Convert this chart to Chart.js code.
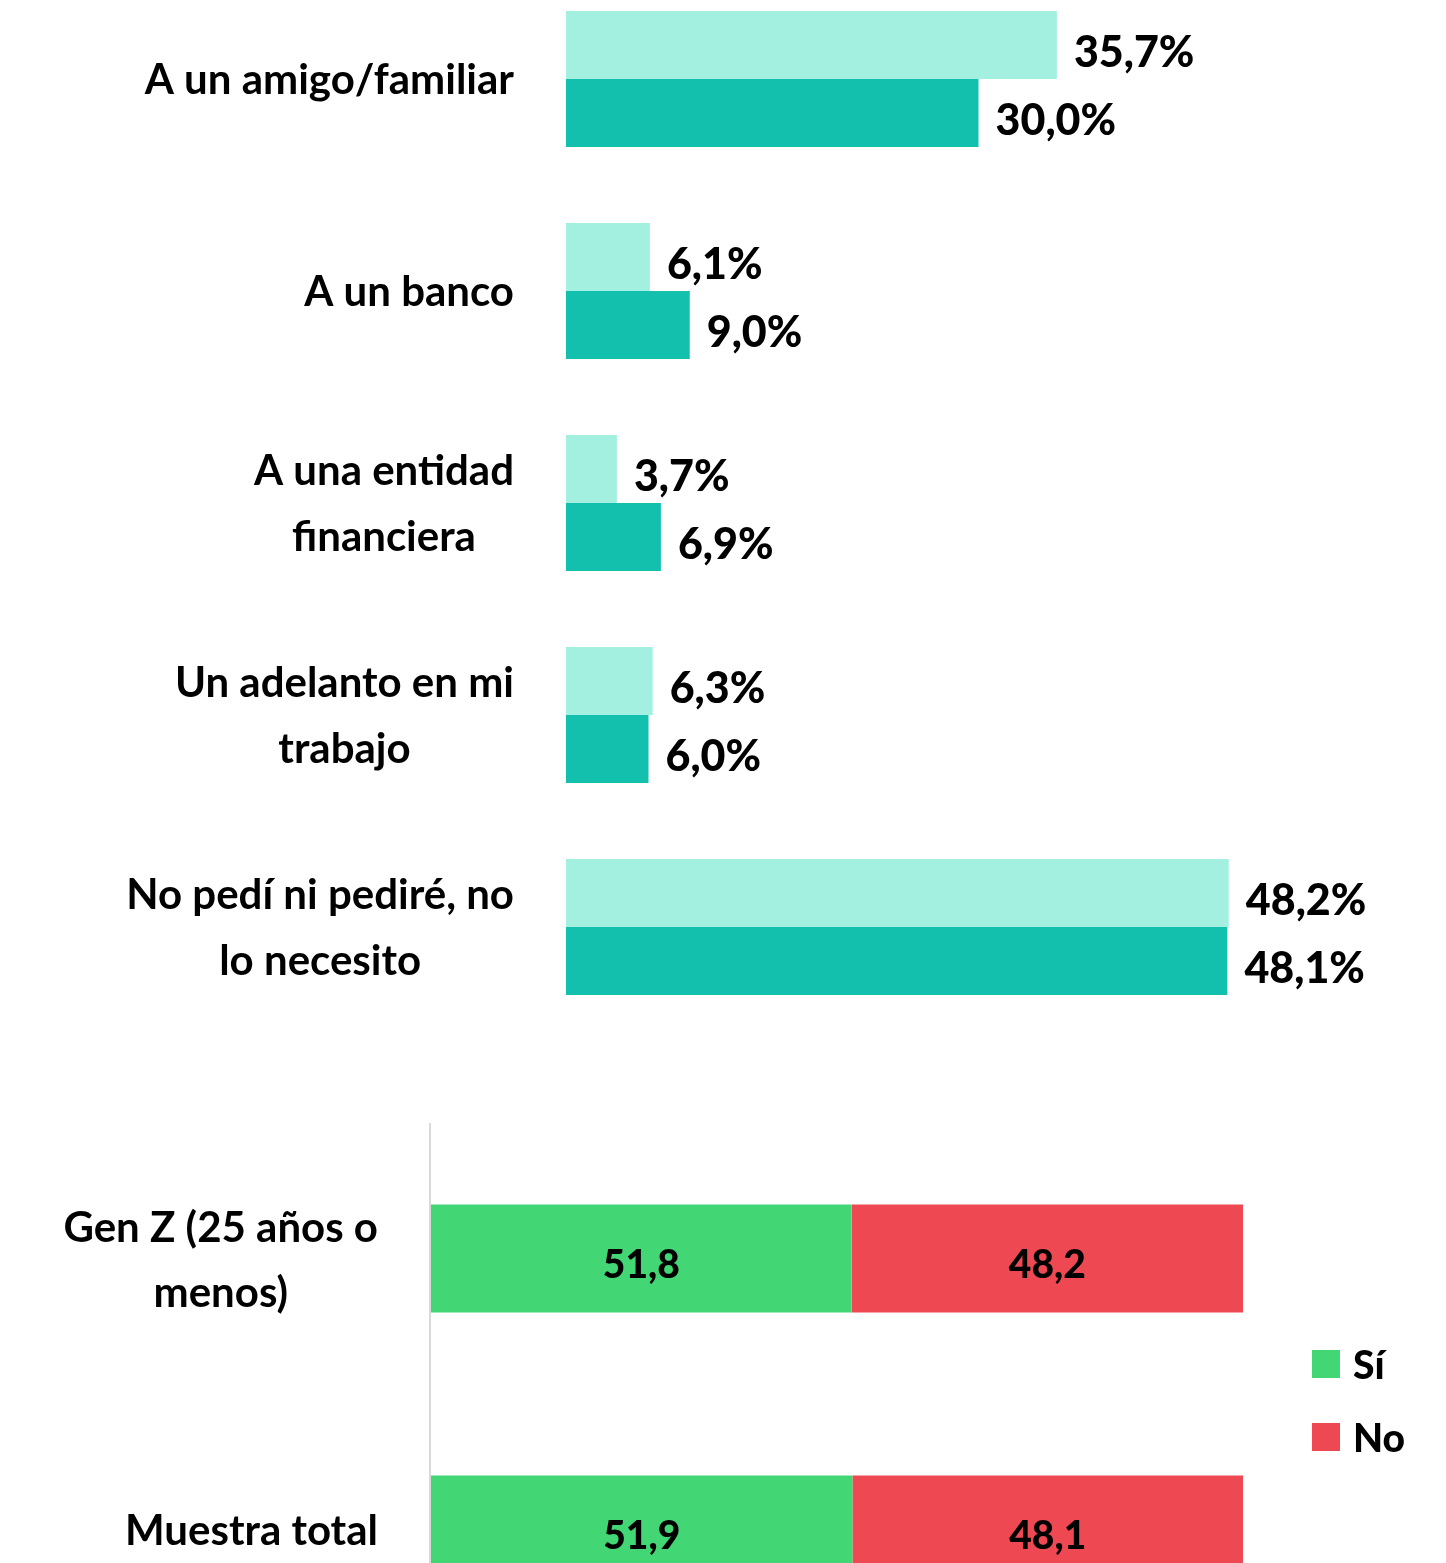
<!DOCTYPE html>
<html lang="es">
<head>
<meta charset="utf-8">
<title>Préstamos</title>
<script src="https://cdn.jsdelivr.net/npm/chart.js@4.4.1/dist/chart.umd.min.js"></script>
<style>
    html, body { margin: 0; padding: 0; background: #fff; }
    body { width: 1446px; height: 1563px; overflow: hidden; position: relative; font-family: Lato, sans-serif; }
    #topChart { position: absolute; left: 0; top: -27px; }
    #bottomChart { position: absolute; left: 0; top: 1123px; }
    .legend-item { position: absolute; left: 1312px; display: flex; align-items: center; font-size: 39px; font-weight: 900; color: #000; }
    .legend-item span { display: inline-block; width: 28px; height: 28px; margin-right: 13px; }
</style>
</head>
<body>
<canvas id="topChart" width="1446" height="1060"></canvas>
<canvas id="bottomChart" width="1446" height="542"></canvas>
<div class="legend-item" style="top:1341px"><span style="background:#42D674"></span>Sí</div>
<div class="legend-item" style="top:1414px"><span style="background:#EE4853"></span>No</div>
<script>
const categorias = [
    ['A un amigo/familiar'],
    ['A un banco'],
    ['A una entidad', 'financiera'],
    ['Un adelanto en mi', 'trabajo'],
    ['No pedí ni pediré, no', 'lo necesito']
];
const serieClara = [35.7, 6.1, 3.7, 6.3, 48.2];
const serieOscura = [30.0, 9.0, 6.9, 6.0, 48.1];

const grupos = [['Gen Z (25 años o', 'menos)'], ['Muestra total']];
const valoresSi = [51.8, 51.9];
const valoresNo = [48.2, 48.1];

const labelFont = '700 42px Lato, sans-serif';

// category labels: block right aligned, lines centered inside the block
const sideLabels = {
    id: 'sideLabels',
    afterDraw(chart, args, opts) {
        const ctx = chart.ctx;
        const yScale = chart.scales.y;
        const area = chart.chartArea;
        ctx.save();
        if (opts.axisLine) {
            ctx.strokeStyle = '#d9d9d9';
            ctx.lineWidth = 2;
            ctx.beginPath();
            ctx.moveTo(area.left - 1, area.top);
            ctx.lineTo(area.left - 1, area.bottom);
            ctx.stroke();
        }
        ctx.font = labelFont;
        ctx.fillStyle = '#000';
        ctx.textAlign = 'center';
        ctx.textBaseline = 'middle';
        const right = area.left - opts.gap;
        chart.data.labels.forEach((lines, i) => {
            const w = Math.max(...lines.map(l => ctx.measureText(l).width));
            const cx = right - w / 2;
            const cy = yScale.getPixelForValue(i);
            lines.forEach((l, j) => {
                ctx.fillText(l, cx, cy + (j - (lines.length - 1) / 2) * opts.lineHeight + opts.shift);
            });
        });
        ctx.restore();
    }
};

const valueLabels = {
    id: 'valueLabels',
    afterDatasetsDraw(chart, args, opts) {
        const ctx = chart.ctx;
        ctx.save();
        ctx.font = opts.font;
        ctx.fillStyle = '#000';
        ctx.textBaseline = 'middle';
        chart.data.datasets.forEach((ds, di) => {
            chart.getDatasetMeta(di).data.forEach((bar, i) => {
                const txt = ds.data[i].toFixed(1).replace('.', ',') + opts.suffix;
                if (opts.inside) {
                    ctx.textAlign = 'center';
                    ctx.fillText(txt, (bar.x + bar.base) / 2, bar.y + opts.shift);
                } else {
                    ctx.textAlign = 'left';
                    ctx.fillText(txt, bar.x + opts.gap, bar.y + opts.shift);
                }
            });
        });
        ctx.restore();
    }
};

new Chart(document.getElementById('topChart').getContext('2d'), {
    type: 'bar',
    data: {
        labels: categorias,
        datasets: [
            { label: 'Serie 1', data: serieClara, backgroundColor: '#A4F0E0', borderWidth: 0 },
            { label: 'Serie 2', data: serieOscura, backgroundColor: '#13BFAD', borderWidth: 0 }
        ]
    },
    options: {
        indexAxis: 'y',
        responsive: false,
        animation: false,
        layout: { padding: { left: 566, right: 0, top: 0, bottom: 0 } },
        datasets: { bar: { categoryPercentage: 136 / 212, barPercentage: 1 } },
        plugins: {
            legend: { display: false },
            tooltip: { enabled: false },
            sideLabels: { gap: 52, lineHeight: 66, shift: 1 },
            valueLabels: { font: '900 43px Lato, sans-serif', gap: 17, shift: 8, suffix: '%', inside: false }
        },
        scales: {
            x: { display: false, min: 0, max: 64 },
            y: { display: false }
        }
    },
    plugins: [sideLabels, valueLabels]
});

new Chart(document.getElementById('bottomChart').getContext('2d'), {
    type: 'bar',
    data: {
        labels: grupos,
        datasets: [
            { label: 'Sí', data: valoresSi, backgroundColor: '#42D674', borderWidth: 0 },
            { label: 'No', data: valoresNo, backgroundColor: '#EE4853', borderWidth: 0 }
        ]
    },
    options: {
        indexAxis: 'y',
        responsive: false,
        animation: false,
        layout: { padding: { left: 431, right: 0, top: 0, bottom: 0 } },
        datasets: { bar: { categoryPercentage: 108 / 271, barPercentage: 1 } },
        plugins: {
            legend: { display: false },
            tooltip: { enabled: false },
            sideLabels: { gap: 53, lineHeight: 65, shift: 2, axisLine: true },
            valueLabels: { font: '900 39px Lato, sans-serif', shift: 7, suffix: '', inside: true }
        },
        scales: {
            x: { display: false, stacked: true, min: 0, max: 125 },
            y: { display: false, stacked: true }
        }
    },
    plugins: [sideLabels, valueLabels]
});
</script>
</body>
</html>
